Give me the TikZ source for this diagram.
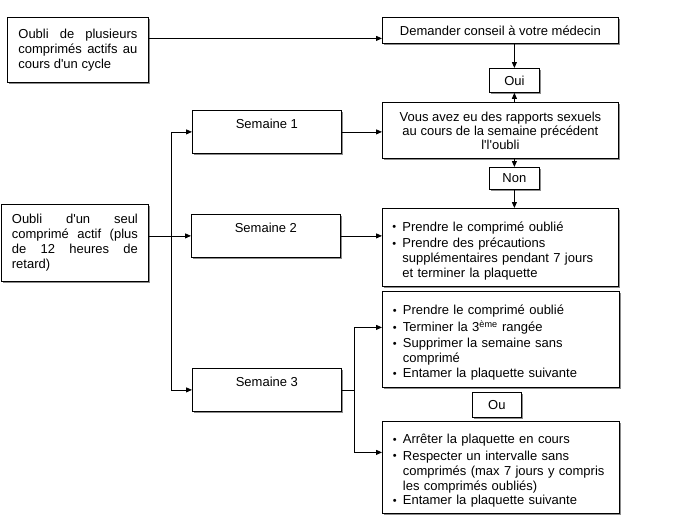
\documentclass[tikz,border=0pt]{standalone}
\usepackage{fontspec}
\setmainfont{Liberation Sans}
\usetikzlibrary{arrows.meta,shadows,calc}
\newcommand\ap{\textquotesingle}
\newcommand\bul[1]{\par\noindent\makebox[10pt][l]{\raisebox{0.3pt}{\fontsize{11}{11}\selectfont •}}\parbox[t]{205pt}{\raggedright\fontsize{13}{15}\selectfont #1}\par}
\begin{document}
\begin{tikzpicture}[x=1pt,y=-1pt,
  box/.style={draw=black, line width=0.8pt, fill=white,
    drop shadow={shadow xshift=2pt,shadow yshift=-2pt,fill=black!45,opacity=1},
    anchor=north west, inner sep=0pt, font=\fontsize{13}{15}\selectfont},
  semaine/.style={box, minimum width=149pt, text height=18pt, text depth=25pt},
  listbox/.style={box, text width=216pt, align=left, execute at begin node={\setlength\parskip{1.5pt}}},
  arr/.style={-{Triangle[length=6pt,width=5pt]}, line width=0.8pt}]
\fill[white] (0,0) rectangle (673,531);
\useasboundingbox (0,0) rectangle (673,531);

\node[box, minimum width=141pt, minimum height=65pt, text width=119pt, align=justify] (A) at (7,17)
  {Oubli de plusieurs\linebreak comprimés actifs au\linebreak cours d\ap un cycle};
\node[box, minimum width=147pt, minimum height=77pt, text width=126pt, align=justify] (B) at (1,204)
  {Oubli d\ap un seul\linebreak comprimé actif (plus\linebreak de 12 heures de\linebreak retard)};

\node[semaine] (S1) at (192,110) {Semaine 1};
\node[semaine] (S2) at (191,214) {Semaine 2};
\node[semaine] (S3) at (192,368) {Semaine 3};

\node[box, minimum width=236pt, minimum height=26pt] (D) at (382,17) {Demander conseil à votre médecin};
\node[box, minimum width=50pt, minimum height=24pt] (Oui) at (489,68) {Oui};
\node[box, minimum width=236pt, minimum height=56pt, align=center, font=\fontsize{13}{14}\selectfont] (V) at (382,102)
  {Vous avez eu des rapports sexuels\\au cours de la semaine précédent\\l\ap l\ap oubli};
\node[box, minimum width=50pt, minimum height=22pt] (Non) at (489,167) {Non};

\node[listbox, minimum width=236pt, minimum height=78pt] (L2) at (382,208)
  {\bul{Prendre le comprimé oublié}\bul{Prendre des précautions\\supplémentaires pendant 7 jours\\et terminer la plaquette}};
\node[listbox, minimum width=237pt, minimum height=96pt] (L3) at (382,291)
  {\bul{Prendre le comprimé oublié}\bul{Terminer la 3\textsuperscript{ème} rangée}\bul{Supprimer la semaine sans\\comprimé}\bul{Entamer la plaquette suivante}};
\node[box, minimum width=49pt, minimum height=25pt] (Ou) at (472,392) {Ou};
\node[listbox, minimum width=237pt, minimum height=92pt] (L4) at (382,421)
  {\bul{Arrêter la plaquette en cours}\bul{Respecter un intervalle sans\\comprimés (max 7 jours y compris\\les comprimés oubliés)}\bul{Entamer la plaquette suivante}};

% connectors
\coordinate (a1) at ([yshift=11.5pt]A.east);
\draw[arr] (a1) -- (a1 -| D.west);
\draw[arr] (Oui.north |- D.south) -- (Oui.north);
\draw[arr] (Oui.south |- V.north) -- (Oui.south);
\draw[arr] (Non.north |- V.south) -- (Non.north);
\draw[arr] (Non.south) -- (Non.south |- L2.north);
\draw[arr] (S1.east) -- (S1.east -| V.west);

\coordinate (tr) at (171,0);
\draw[arr] (tr |- S1.west) -- (S1.west);
\draw[arr] (tr |- S1.west) -- (tr |- S3.west) -- (S3.west);
\draw[arr] (S2.west -| B.east) -- (S2.west);
\draw[arr] (S2.east) -- (S2.east -| L2.west);

\coordinate (br) at (354,0);
\coordinate (l3) at ([yshift=12pt]L3.west);
\coordinate (l4) at ([yshift=15pt]L4.west);
\draw[line width=0.8pt] (S3.east) -- (br |- S3.east);
\draw[arr] (br |- S3.east) -- (br |- l3) -- (l3);
\draw[arr] (br |- S3.east) -- (br |- l4) -- (l4);
\end{tikzpicture}
\end{document}
